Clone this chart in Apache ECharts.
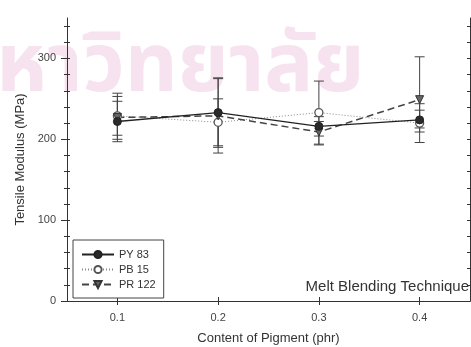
<!DOCTYPE html>
<html>
<head>
<meta charset="utf-8">
<script src="https://cdn.jsdelivr.net/npm/echarts@6/dist/echarts.min.js"></script>
<style>html,body{margin:0;padding:0;background:#fff}#c{width:471px;height:347px}</style>
</head>
<body>
<div id="c"></div>
<script>
// ---- data ----
const xValues = [0.1, 0.2, 0.3, 0.4];
const xTickLabels = [0.1, 0.2, 0.3, 0.4];
const yTickLabels = [0, 100, 200, 300];
const yMinorTicks = [20, 40, 60, 80, 120, 140, 160, 180, 220, 240, 260, 280, 320, 340];
const yAllTicks = [0, 20, 40, 60, 80, 100, 120, 140, 160, 180, 200, 220, 240, 260, 280, 300, 320, 340];

const py83 = [222, 233, 216, 224];
const py83Upper = [247, 276, 228, 244];
const py83Lower = [197, 190, 204, 209];

const pb15 = [229, 221, 233, 220];
const pb15Upper = [253, 250, 272, 236];
const pb15Lower = [205, 192, 194, 214];

const pr122 = [227, 229, 209, 249];
const pr122Upper = [257, 275, 222, 302];
const pr122Lower = [200, 183, 193, 196];

// ---- build ----
const FONT = 'Liberation Sans, Arial, sans-serif';
const pts = (vals) => xValues.map((x, i) => [x, vals[i]]);
const errs = (lo, hi) => xValues.map((x, i) => [x, lo[i], hi[i]]);

function errRender(params, api) {
  const x = api.value(0);
  const pLo = api.coord([x, api.value(1)]);
  const pHi = api.coord([x, api.value(2)]);
  const w = 5;
  const st = { stroke: '#444', lineWidth: 1 };
  return {
    type: 'group',
    children: [
      { type: 'line', shape: { x1: pLo[0], y1: pLo[1], x2: pHi[0], y2: pHi[1] }, style: st },
      { type: 'line', shape: { x1: pHi[0] - w, y1: pHi[1], x2: pHi[0] + w, y2: pHi[1] }, style: st },
      { type: 'line', shape: { x1: pLo[0] - w, y1: pLo[1], x2: pLo[0] + w, y2: pLo[1] }, style: st }
    ]
  };
}

const axisLineStyle = { color: '#333', width: 1 };
const baseX = { type: 'value', min: 0.05, max: 0.45, splitLine: { show: false } };
const baseY = { type: 'value', min: 0, max: 350, splitLine: { show: false } };

const option = {
  animation: false,
  backgroundColor: '#fff',
  textStyle: { fontFamily: FONT },
  grid: { left: 67, right: 1, top: 18, bottom: 46, containLabel: false, outerBoundsMode: 'none' },
  graphic: [
    {
      type: 'text', left: -4, top: 33, z: -10, silent: true,
      style: { text: 'หาวิทยาลัย', fontSize: 82, fontWeight: 'bold', fontFamily: 'Noto Sans Thai, Noto Sans, sans-serif', fill: '#f6e3ef' }
    },
    {
      type: 'text', right: 2, top: 279,
      style: { text: 'Melt Blending Technique', fontSize: 15, fontFamily: FONT, fill: '#333' }
    }
  ],
  legend: {
    orient: 'vertical', left: 73, top: 240,
    padding: [9, 8, 8, 8], itemGap: 4, itemWidth: 32, itemHeight: 9,
    borderColor: '#444', borderWidth: 1, backgroundColor: '#fff',
    textStyle: { fontSize: 11, color: '#333', fontFamily: FONT },
    data: ['PY 83', 'PB 15', 'PR 122']
  },
  xAxis: [
    Object.assign({}, baseX, {
      position: 'bottom',
      name: 'Content of Pigment (phr)', nameLocation: 'middle', nameGap: 31,
      nameTextStyle: { fontSize: 13, color: '#333', fontFamily: FONT },
      axisLine: { show: true, lineStyle: axisLineStyle },
      axisTick: { show: true, inside: false, length: 4, customValues: xTickLabels, lineStyle: axisLineStyle },
      axisLabel: { show: true, customValues: xTickLabels, margin: 11, fontSize: 11, color: '#444', fontFamily: FONT,
        formatter: (v) => v.toFixed(1) }
    }),
    Object.assign({}, baseX, {
      position: 'bottom',
      axisLine: { show: false },
      axisTick: { show: true, inside: true, length: 4, customValues: xTickLabels, lineStyle: axisLineStyle },
      axisLabel: { show: false }
    }),
    Object.assign({}, baseX, {
      position: 'top',
      axisLine: { show: true, lineStyle: axisLineStyle },
      axisTick: { show: true, inside: false, length: 4, customValues: xTickLabels, lineStyle: axisLineStyle },
      axisLabel: { show: false }
    }),
    Object.assign({}, baseX, {
      position: 'top',
      axisLine: { show: false },
      axisTick: { show: true, inside: true, length: 4, customValues: xTickLabels, lineStyle: axisLineStyle },
      axisLabel: { show: false }
    })
  ],
  yAxis: [
    Object.assign({}, baseY, {
      position: 'left',
      name: 'Tensile Modulus (MPa)', nameLocation: 'middle', nameGap: 39, nameRotate: 90,
      nameTextStyle: { fontSize: 13, color: '#333', fontFamily: FONT },
      axisLine: { show: true, lineStyle: axisLineStyle },
      axisTick: { show: true, inside: false, length: 6, customValues: yTickLabels, lineStyle: axisLineStyle },
      axisLabel: { show: true, customValues: yTickLabels, margin: 11, fontSize: 11, color: '#444', fontFamily: FONT }
    }),
    Object.assign({}, baseY, {
      position: 'left',
      axisLine: { show: false },
      axisTick: { show: true, inside: false, length: 3, customValues: yMinorTicks, lineStyle: axisLineStyle },
      axisLabel: { show: false }
    }),
    Object.assign({}, baseY, {
      position: 'left',
      axisLine: { show: false },
      axisTick: { show: true, inside: true, length: 3, customValues: yAllTicks, lineStyle: axisLineStyle },
      axisLabel: { show: false }
    }),
    Object.assign({}, baseY, {
      position: 'right',
      axisLine: { show: true, lineStyle: axisLineStyle },
      axisTick: { show: true, inside: true, length: 3, customValues: yAllTicks, lineStyle: axisLineStyle },
      axisLabel: { show: false }
    })
  ],
  series: [
    { name: 'errPY', type: 'custom', renderItem: errRender, data: errs(py83Lower, py83Upper),
      encode: { x: 0, y: [1, 2] }, z: 1, silent: true },
    { name: 'errPB', type: 'custom', renderItem: errRender, data: errs(pb15Lower, pb15Upper),
      encode: { x: 0, y: [1, 2] }, z: 1, silent: true },
    { name: 'errPR', type: 'custom', renderItem: errRender, data: errs(pr122Lower, pr122Upper),
      encode: { x: 0, y: [1, 2] }, z: 1, silent: true },
    { name: 'PY 83', type: 'line', data: pts(py83), z: 4,
      symbol: 'circle', symbolSize: 8,
      lineStyle: { color: '#222', width: 1.3, type: 'solid' },
      itemStyle: { color: '#2a2a2a', borderColor: '#222', borderWidth: 1 } },
    { name: 'PB 15', type: 'line', data: pts(pb15), z: 3,
      symbol: 'circle', symbolSize: 8,
      lineStyle: { color: '#888', width: 1, type: [1, 2] },
      itemStyle: { color: '#fff', borderColor: '#555', borderWidth: 1.3 } },
    { name: 'PR 122', type: 'line', data: pts(pr122), z: 3,
      symbol: 'triangle', symbolSize: 8, symbolRotate: 180,
      lineStyle: { color: '#444', width: 1.5, type: [7, 4] },
      itemStyle: { color: '#666', borderColor: '#333', borderWidth: 1 } }
  ]
};

const chart = echarts.init(document.getElementById('c'), null, { renderer: 'canvas' });
chart.setOption(option);
</script>
</body>
</html>
